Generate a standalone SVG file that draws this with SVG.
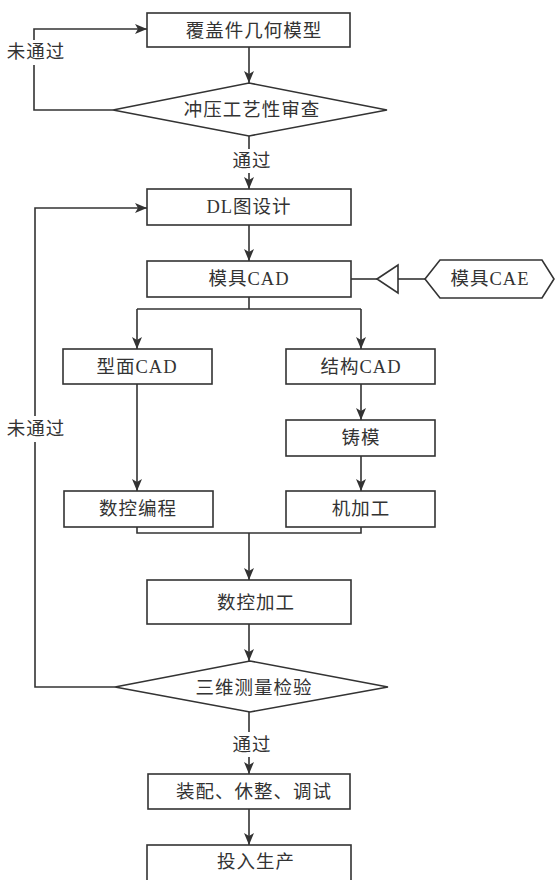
<svg xmlns="http://www.w3.org/2000/svg" width="556" height="880" viewBox="0 0 556 880">
<defs>
<marker id="ah" markerWidth="12" markerHeight="10" refX="12" refY="5" orient="auto" markerUnits="userSpaceOnUse">
<path d="M0,0 L12,5 L0,10 L3,5 Z" fill="#333"/>
</marker>
<style>
.box{fill:#fff;stroke:#333;stroke-width:1.6}
.ln{fill:none;stroke:#333;stroke-width:1.6}
.t{font-family:"Liberation Serif","Noto Sans CJK SC",serif;font-size:18.5px;fill:#333;text-anchor:middle;dominant-baseline:central;letter-spacing:1px}
</style>
</defs>
<rect width="556" height="880" fill="#fff"/>
<g id="connectors">
<line class="ln" x1="249" y1="47" x2="249" y2="83" marker-end="url(#ah)"/>
<polyline class="ln" points="113,110 34,110 34,65"/>
<polyline class="ln" points="34,40 34,29 147,29" marker-end="url(#ah)"/>
<line class="ln" x1="249" y1="136" x2="249" y2="149"/>
<line class="ln" x1="249" y1="173" x2="249" y2="189" marker-end="url(#ah)"/>
<line class="ln" x1="249" y1="225" x2="249" y2="261" marker-end="url(#ah)"/>
<line class="ln" x1="351" y1="279" x2="377" y2="279"/>
<polygon class="ln" points="377,279 398,265 398,293"/>
<line class="ln" x1="398" y1="279" x2="425" y2="279"/>
<line class="ln" x1="249" y1="297" x2="249" y2="309"/>
<line class="ln" x1="137" y1="309" x2="361" y2="309"/>
<line class="ln" x1="137" y1="309" x2="137" y2="349" marker-end="url(#ah)"/>
<line class="ln" x1="361" y1="309" x2="361" y2="349" marker-end="url(#ah)"/>
<line class="ln" x1="137" y1="384" x2="137" y2="491" marker-end="url(#ah)"/>
<line class="ln" x1="361" y1="384" x2="361" y2="420" marker-end="url(#ah)"/>
<line class="ln" x1="361" y1="456" x2="361" y2="491" marker-end="url(#ah)"/>
<polyline class="ln" points="137,527 137,533 361,533 361,527"/>
<line class="ln" x1="249" y1="533" x2="249" y2="580" marker-end="url(#ah)"/>
<line class="ln" x1="249" y1="624" x2="249" y2="661" marker-end="url(#ah)"/>
<polyline class="ln" points="115,687 35,687 35,442"/>
<polyline class="ln" points="35,416 35,208 147,208" marker-end="url(#ah)"/>
<line class="ln" x1="249" y1="712" x2="249" y2="732"/>
<line class="ln" x1="249" y1="757" x2="249" y2="774" marker-end="url(#ah)"/>
<line class="ln" x1="249" y1="809" x2="249" y2="845" marker-end="url(#ah)"/>
<text class="t" x="36" y="52">未通过</text>
<text class="t" x="36" y="429">未通过</text>
<text class="t" x="252" y="161">通过</text>
<text class="t" x="252" y="745">通过</text>
</g>
<g id="n1"><rect class="box" x="147" y="13" width="203" height="34"/><text class="t" x="254" y="31">覆盖件几何模型</text></g>
<g id="d1"><polygon class="box" points="113,110 249,83 387,110 249,136"/><text class="t" x="252" y="110">冲压工艺性审查</text></g>
<g id="n2"><rect class="box" x="147" y="189" width="204" height="36"/><text class="t" x="249" y="207">DL图设计</text></g>
<g id="n3"><rect class="box" x="147" y="261" width="204" height="36"/><text class="t" x="249" y="279">模具CAD</text></g>
<g id="cae"><polygon class="box" points="425,279 440,260 542,260 554,279 542,298 440,298"/><text class="t" x="490" y="279">模具CAE</text></g>
<g id="n4"><rect class="box" x="63" y="349" width="149" height="35"/><text class="t" x="137" y="367">型面CAD</text></g>
<g id="n5"><rect class="box" x="286" y="349" width="149" height="35"/><text class="t" x="361" y="367">结构CAD</text></g>
<g id="n6"><rect class="box" x="286" y="420" width="149" height="36"/><text class="t" x="361" y="438">铸模</text></g>
<g id="n7"><rect class="box" x="64" y="491" width="149" height="36"/><text class="t" x="138" y="509">数控编程</text></g>
<g id="n8"><rect class="box" x="286" y="491" width="149" height="36"/><text class="t" x="361" y="509">机加工</text></g>
<g id="n9"><rect class="box" x="147" y="580" width="204" height="44"/><text class="t" x="256" y="603">数控加工</text></g>
<g id="d2"><polygon class="box" points="115,687 250,661 388,687 250,712"/><text class="t" x="254" y="688">三维测量检验</text></g>
<g id="n10"><rect class="box" x="148" y="774" width="202" height="35"/><text class="t" x="254" y="792">装配、休整、调试</text></g>
<g id="n11"><rect class="box" x="147" y="845" width="204" height="42"/><text class="t" x="256" y="862">投入生产</text></g>
</svg>
